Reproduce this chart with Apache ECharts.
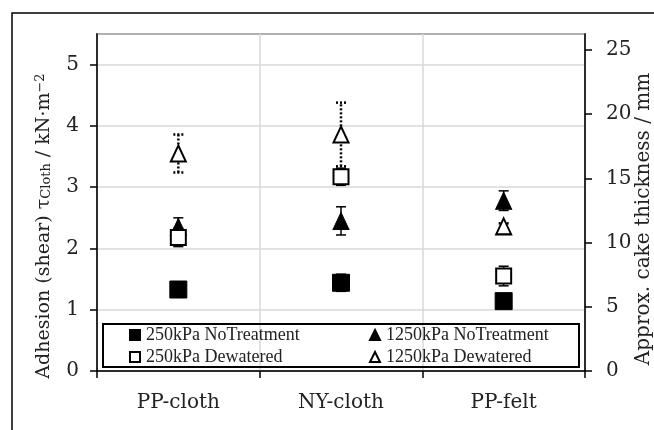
<!DOCTYPE html>
<html>
<head>
<meta charset="utf-8">
<script src="https://cdn.jsdelivr.net/npm/echarts@6/dist/echarts.min.js"></script>
<style>html,body{margin:0;padding:0;background:#fff;}#c{width:654px;height:430px;}</style>
</head>
<body>
<div id="c"></div>
<script>
const categories = ['PP-cloth', 'NY-cloth', 'PP-felt'];
const leftTicks = [0, 1, 2, 3, 4, 5];
const rightTicks = [0, 5, 10, 15, 20, 25];
const seriesNames = ['250kPa NoTreatment', '1250kPa NoTreatment', '250kPa Dewatered', '1250kPa Dewatered'];
const nt250 = [1.33, 1.44, 1.14];
const nt250Err = [0.10, 0.14, 0.08];
const nt1250 = [2.35, 2.45, 2.78];
const nt1250Err = [0.15, 0.23, 0.16];
const dw250 = [2.18, 3.17, 1.55];
const dw250Err = [0.15, 0.14, 0.16];
const dw1250 = [3.55, 3.86, 2.36];
const dw1250Err = [0.31, 0.52, 0.05];

const FONT = 'DejaVu Serif';
const LFONT = 'Liberation Serif';

function errData(vals, errs) {
  return vals.map((v, i) => [i, v - errs[i], v + errs[i]]);
}
function errSeries(name, vals, errs, dotted) {
  return {
    type: 'custom',
    name: name + ' err',
    z: 2,
    silent: true,
    data: errData(vals, errs),
    renderItem: function (params, api) {
      const x = api.value(0);
      const lo = api.coord([x, api.value(1)]);
      const hi = api.coord([x, api.value(2)]);
      const w = 5;
      const style = {stroke: '#000', lineWidth: dotted ? 2.5 : 1.5, lineDash: dotted ? [2, 2] : null, fill: null};
      return {
        type: 'group',
        children: [
          {type: 'line', shape: {x1: lo[0], y1: lo[1], x2: hi[0], y2: hi[1]}, style: style},
          {type: 'line', shape: {x1: lo[0] - w, y1: lo[1], x2: lo[0] + w, y2: lo[1]}, style: style},
          {type: 'line', shape: {x1: hi[0] - w, y1: hi[1], x2: hi[0] + w, y2: hi[1]}, style: style}
        ]
      };
    }
  };
}
function markSeries(name, vals, symbol, size, filled) {
  return {
    type: 'scatter',
    name: name,
    z: 3,
    symbol: symbol,
    symbolSize: size,
    data: vals.map((v, i) => [i, v]),
    itemStyle: filled ? {color: '#000', borderColor: '#000', borderWidth: 1, opacity: 1}
                      : {color: '#fff', borderColor: '#000', borderWidth: 2, opacity: 1}
  };
}

const chart = echarts.init(document.getElementById('c'));
const axisLine = {show: true, lineStyle: {color: '#000', width: 1.5}};
const axisTick = {show: true, length: 7, lineStyle: {color: '#000', width: 1.5}};
const labelStyle = {fontFamily: FONT, fontSize: 20, color: '#222'};
const legendText = {fontFamily: LFONT, fontSize: 18, color: '#222', padding: [0, 0, 0, 1]};

chart.setOption({
  animation: false,
  backgroundColor: '#fff',
  grid: {left: 97, right: 69, top: 34, bottom: 59, show: true, borderColor: '#000', borderWidth: 1.5, containLabel: false},
  xAxis: {
    type: 'category',
    data: categories,
    boundaryGap: true,
    axisLine: axisLine,
    axisTick: {show: true, length: 7, alignWithLabel: false, lineStyle: {color: '#000', width: 1.5}},
    axisLabel: Object.assign({margin: 22}, labelStyle),
    splitLine: {show: true, lineStyle: {color: '#d9d9d9', width: 1.5}}
  },
  yAxis: [
    {
      type: 'value', min: 0, max: 5.5, interval: 1, position: 'left',
      axisLine: axisLine, axisTick: axisTick,
      axisLabel: Object.assign({margin: 18, showMaxLabel: false,
        formatter: v => leftTicks.indexOf(v) >= 0 ? String(v) : ''}, labelStyle),
      splitLine: {show: true, lineStyle: {color: '#d9d9d9', width: 1.5}}
    },
    {
      type: 'value', min: 0, max: 26.25, interval: 5, position: 'right',
      axisLine: axisLine, axisTick: axisTick,
      axisLabel: Object.assign({margin: 21, showMaxLabel: false,
        formatter: v => rightTicks.indexOf(v) >= 0 ? String(v) : ''}, labelStyle),
      splitLine: {show: false}
    }
  ],
  legend: [
    {
      data: [seriesNames[0], seriesNames[2]],
      orient: 'vertical', left: 124, top: 321, itemGap: 4, itemWidth: 10, itemHeight: 10,
      textStyle: legendText,
      selectedMode: false
    },
    {
      data: [seriesNames[1], seriesNames[3]],
      orient: 'vertical', left: 364, top: 321, itemGap: 4, itemWidth: 10, itemHeight: 10,
      textStyle: legendText,
      selectedMode: false
    }
  ],
  graphic: [
    {type: 'rect', z: -1, shape: {x: 12, y: 13, width: 700, height: 500}, style: {fill: null, stroke: '#000', lineWidth: 1.5}, silent: true},
    {type: 'rect', z: 5, shape: {x: 103, y: 324, width: 476, height: 43}, style: {fill: 'rgba(255,255,255,0)', stroke: '#000', lineWidth: 2}, silent: true},
    {
      type: 'text', x: 44, y: 226, rotation: Math.PI / 2, silent: true,
      style: {
        text: 'Adhesion (shear) τ{sub|Cloth} / kN·m{sup|−2}',
        fontFamily: FONT, fontSize: 19, fill: '#222', align: 'center', verticalAlign: 'middle',
        rich: {
          sub: {fontFamily: FONT, fontSize: 13, fill: '#222', verticalAlign: 'bottom', lineHeight: 14, padding: [8, 0, 0, 0]},
          sup: {fontFamily: FONT, fontSize: 13, fill: '#222', verticalAlign: 'top', lineHeight: 14, padding: [0, 0, 8, 0]}
        }
      }
    },
    {
      type: 'text', x: 644, y: 219, rotation: Math.PI / 2, silent: true,
      style: {text: 'Approx. cake thickness / mm', fontFamily: FONT, fontSize: 20, fill: '#222', align: 'center', verticalAlign: 'middle'}
    }
  ],
  series: [
    errSeries(seriesNames[0], nt250, nt250Err, false),
    errSeries(seriesNames[1], nt1250, nt1250Err, false),
    errSeries(seriesNames[2], dw250, dw250Err, false),
    errSeries(seriesNames[3], dw1250, dw1250Err, true),
    markSeries(seriesNames[0], nt250, 'rect', 17, true),
    markSeries(seriesNames[1], nt1250, 'triangle', [16, 17], true),
    markSeries(seriesNames[2], dw250, 'rect', 15, false),
    markSeries(seriesNames[3], dw1250, 'triangle', [15, 16], false)
  ]
});
</script>
</body>
</html>
